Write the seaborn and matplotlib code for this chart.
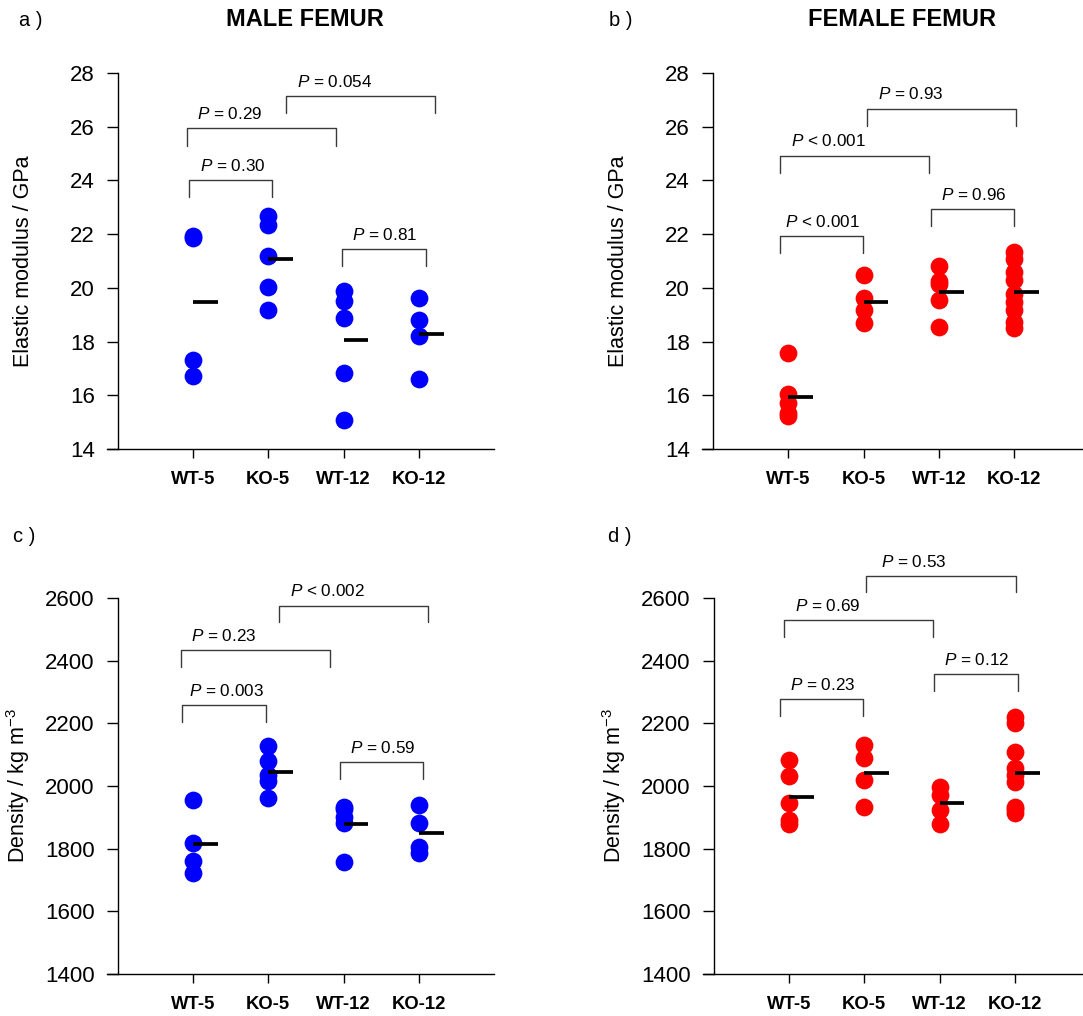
import matplotlib
matplotlib.use("Agg")
import matplotlib.pyplot as plt
import seaborn as sns
import pandas as pd

sns.set_theme(style="white")
plt.rcParams["font.family"] = ["Liberation Sans", "DejaVu Sans"]
plt.rcParams["mathtext.fontset"] = "custom"
plt.rcParams["mathtext.rm"] = "Liberation Sans"
plt.rcParams["mathtext.it"] = "Liberation Sans:italic"
plt.rcParams["mathtext.bf"] = "Liberation Sans:bold"
plt.rcParams["text.color"] = "black"
plt.rcParams["axes.labelcolor"] = "black"
plt.rcParams["xtick.color"] = "black"
plt.rcParams["ytick.color"] = "black"

groups = ["WT-5", "KO-5", "WT-12", "KO-12"]

# ---- data ----
male_E = {
    "WT-5": [21.93, 21.87, 17.33, 16.70],
    "KO-5": [22.66, 22.33, 21.19, 20.05, 19.18],
    "WT-12": [19.89, 19.52, 18.87, 16.83, 15.08],
    "KO-12": [19.62, 18.81, 18.19, 16.62],
}
male_E_mean = [19.46, 21.09, 18.04, 18.30]

female_E = {
    "WT-5": [17.59, 16.04, 15.70, 15.35, 15.22],
    "KO-5": [20.49, 19.62, 19.18, 18.69],
    "WT-12": [20.81, 20.27, 20.15, 19.55, 18.53],
    "KO-12": [21.35, 21.06, 20.60, 20.29, 19.76, 19.49, 19.18, 18.74, 18.52],
}
female_E_mean = [15.95, 19.49, 19.86, 19.85]

male_D = {
    "WT-5": [1955, 1819, 1760, 1723],
    "KO-5": [2129, 2081, 2035, 2017, 1961],
    "WT-12": [1934, 1925, 1902, 1881, 1757],
    "KO-12": [1939, 1883, 1806, 1785],
}
male_D_mean = [1816, 2046, 1880, 1851]

female_D = {
    "WT-5": [2083, 2033, 1947, 1891, 1879],
    "KO-5": [2131, 2090, 2019, 1934],
    "WT-12": [1998, 1971, 1923, 1879],
    "KO-12": [2221, 2200, 2110, 2057, 2035, 2014, 1934, 1925, 1913],
}
female_D_mean = [1966, 2043, 1947, 2040]

# significance annotations: (x_left, x_right, y_top, y_leg_end, text, text_x, text_y)
brackets_a = [
    (-0.05, 1.056, 24.03, 23.40, "= 0.30", 0.526, 24.55),
    (-0.078, 1.90, 25.94, 25.30, "= 0.29", 0.494, 26.46),
    (1.24, 3.22, 27.16, 26.52, "= 0.054", 1.884, 27.67),
    (1.975, 3.09, 21.45, 20.80, "= 0.81", 2.547, 21.96),
]
brackets_b = [
    (-0.11, 0.994, 21.94, 21.29, "< 0.001", 0.46, 22.47),
    (-0.11, 1.873, 24.92, 24.29, "< 0.001", 0.53, 25.47),
    (1.049, 3.03, 26.67, 26.04, "= 0.93", 1.63, 27.21),
    (1.89, 3.0, 22.92, 22.29, "= 0.96", 2.47, 23.45),
]
brackets_c = [
    (-0.14, 0.965, 2257, 2204, "= 0.003", 0.444, 2302),
    (-0.16, 1.815, 2434, 2381, "= 0.23", 0.41, 2479),
    (1.14, 3.12, 2575, 2522, "< 0.002", 1.79, 2622),
    (1.957, 3.054, 2075, 2023, "= 0.59", 2.52, 2120),
]
brackets_d = [
    (-0.124, 0.988, 2278, 2223, "= 0.23", 0.455, 2322),
    (-0.069, 1.91, 2529, 2474, "= 0.69", 0.51, 2574),
    (1.03, 3.01, 2670, 2618, "= 0.53", 1.66, 2715),
    (1.93, 3.04, 2358, 2303, "= 0.12", 2.50, 2402),
]

W, H = 1083, 1016
fig = plt.figure(figsize=(W / 100, H / 100), dpi=100)

ax_w = 387.4 / W
ax_h = 376 / H
panels = [
    dict(left=106.7, top=73, data=male_E, mean=male_E_mean, color="#0000ff",
         ylim=(14, 28), yticks=range(14, 29, 2), ylabel="Elastic modulus / GPa",
         br=brackets_a, labx=-0.188),
    dict(left=702.0, top=73, data=female_E, mean=female_E_mean, color="#ff0000",
         ylim=(14, 28), yticks=range(14, 29, 2), ylabel="Elastic modulus / GPa",
         br=brackets_b, labx=-0.188),
    dict(left=106.7, top=598, data=male_D, mean=male_D_mean, color="#0000ff",
         ylim=(1400, 2600), yticks=range(1400, 2601, 200),
         ylabel="Density / kg m$^{-3}$", br=brackets_c, labx=-0.194),
    dict(left=702.7, top=598, data=female_D, mean=female_D_mean, color="#ff0000",
         ylim=(1400, 2600), yticks=range(1400, 2601, 200),
         ylabel="Density / kg m$^{-3}$", br=brackets_d, labx=-0.194),
]

for p in panels:
    ax = fig.add_axes([p["left"] / W, 1 - (p["top"] + 376) / H, ax_w, ax_h])
    rows = [(g, v) for g in groups for v in p["data"][g]]
    df = pd.DataFrame(rows, columns=["group", "value"])
    sns.stripplot(data=df, x="group", y="value", order=groups, jitter=False,
                  color=p["color"], size=12.8, linewidth=0, ax=ax, zorder=3)
    ax.hlines(p["mean"], [i for i in range(4)], [i + 0.33 for i in range(4)],
              colors="black", linewidth=2.7, zorder=4)
    ax.set_xlim(-1.145, 4.0)
    ax.set_ylim(*p["ylim"])
    ax.set_yticks(list(p["yticks"]))
    ax.set_xlabel("")
    ax.set_ylabel(p["ylabel"], fontsize=15.5, color="black")
    ax.yaxis.set_label_coords(p["labx"], 0.5)
    for s in ["top", "right"]:
        ax.spines[s].set_visible(False)
    for s in ["left", "bottom"]:
        ax.spines[s].set_color("black")
        ax.spines[s].set_linewidth(1.0)
    ax.spines["left"].set_position(("data", -1.0))
    ax.tick_params(axis="y", direction="out", length=8, width=1.0, pad=8.5,
                   labelsize=16, left=True, colors="black", labelcolor="black")
    ax.tick_params(axis="x", direction="out", length=6.5, width=1.0, pad=9,
                   labelsize=13.3, bottom=True, colors="black", labelcolor="black")
    for lab in ax.get_xticklabels():
        lab.set_fontweight("bold")
    ax.grid(False)
    for (x1, x2, yt, yb, txt, tx, ty) in p["br"]:
        ax.plot([x1, x1, x2, x2], [yb, yt, yt, yb], color="#3a3a3a",
                linewidth=1.0, clip_on=False, zorder=2)
        ax.text(tx, ty, r"$\mathit{P}$ " + txt, ha="center", va="center",
                fontsize=12.3, color="black", clip_on=False)

fig.text(19 / W, 1 - 20 / H, "a )", ha="left", va="center", fontsize=14.5, color="black")
fig.text(609 / W, 1 - 20 / H, "b )", ha="left", va="center", fontsize=14.5, color="black")
fig.text(13 / W, 1 - 537 / H, "c )", ha="left", va="center", fontsize=14.5, color="black")
fig.text(608 / W, 1 - 537 / H, "d )", ha="left", va="center", fontsize=14.5, color="black")
fig.text(305 / W, 1 - 20 / H, "MALE FEMUR", ha="center", va="center",
         fontsize=17, fontweight="bold", color="black")
fig.text(902 / W, 1 - 20 / H, "FEMALE FEMUR", ha="center", va="center",
         fontsize=17, fontweight="bold", color="black")

fig.savefig("out.png", dpi=100)
